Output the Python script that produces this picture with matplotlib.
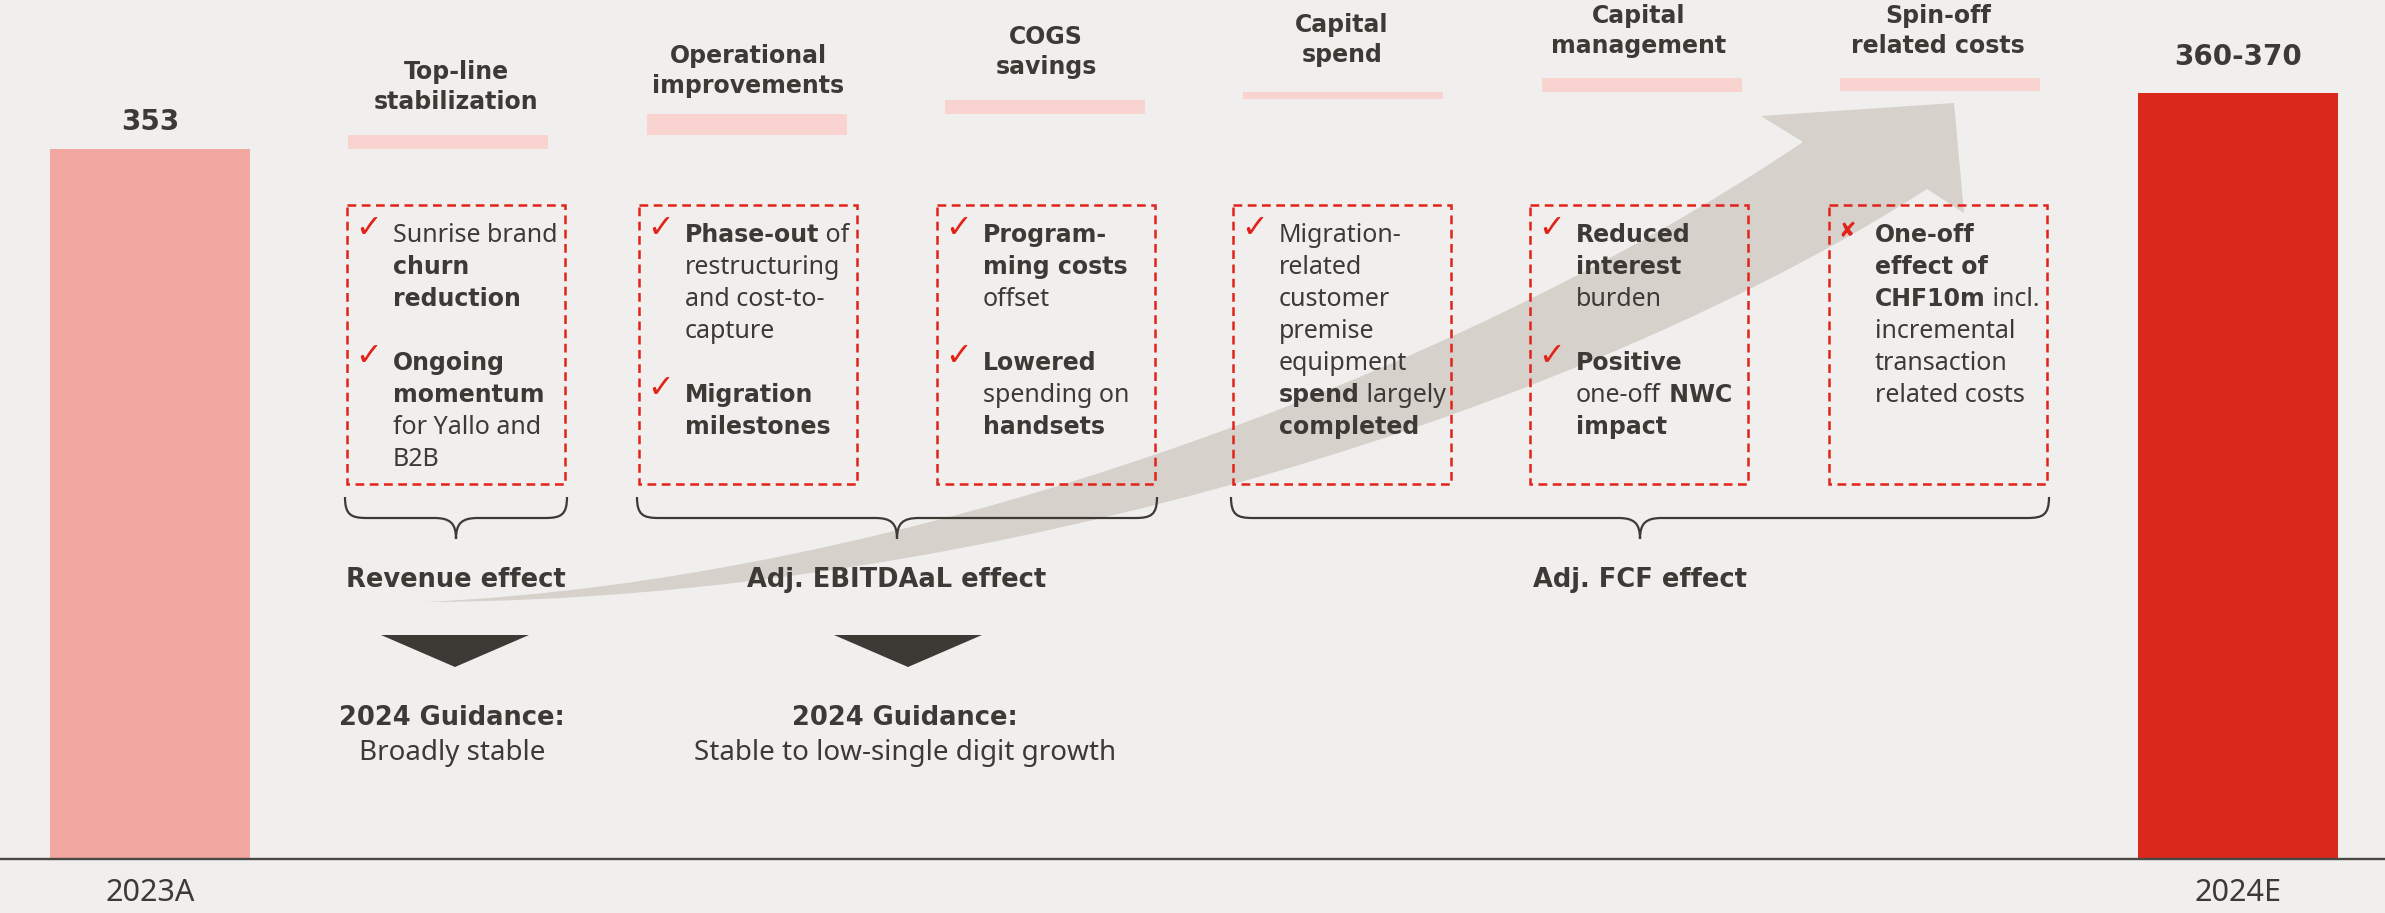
import matplotlib
matplotlib.use("Agg")
import matplotlib.pyplot as plt
from matplotlib.path import Path
from matplotlib.patches import PathPatch, Rectangle, Polygon
from matplotlib import font_manager

# chart values
years = ["2023A", "2024E"]
values = [353, 365]
value_labels = ["353", "360-370"]
axis_floor = 200

headers = ["Top-line\nstabilization", "Operational\nimprovements", "COGS\nsavings",
           "Capital\nspend", "Capital\nmanagement", "Spin-off\nrelated costs"]

# each box: bullets -> lines -> (text, bold) pieces
boxes = [
    [[[("Sunrise brand", 0)], [("churn", 1)], [("reduction", 1)]],
     [[("Ongoing", 1)], [("momentum", 1)], [("for Yallo and", 0)], [("B2B", 0)]]],
    [[[("Phase-out", 1), (" of", 0)], [("restructuring", 0)], [("and cost-to-", 0)], [("capture", 0)]],
     [[("Migration", 1)], [("milestones", 1)]]],
    [[[("Program-", 1)], [("ming costs", 1)], [("offset", 0)]],
     [[("Lowered", 1)], [("spending on", 0)], [("handsets", 1)]]],
    [[[("Migration-", 0)], [("related", 0)], [("customer", 0)], [("premise", 0)],
      [("equipment", 0)], [("spend", 1), (" largely", 0)], [("completed", 1)]]],
    [[[("Reduced", 1)], [("interest", 1)], [("burden", 0)]],
     [[("Positive", 1)], [("one-off", 0), (" NWC", 1)], [("impact", 1)]]],
    [[[("One-off", 1)], [("effect of", 1)], [("CHF10m", 1), (" incl.", 0)],
      [("incremental", 0)], [("transaction", 0)], [("related costs", 0)]]],
]
markers = ["✓", "✓", "✓", "✓", "✓", "✘"]

groups = ["Revenue effect", "Adj. EBITDAaL effect", "Adj. FCF effect"]
group_spans = [(0, 0), (1, 2), (3, 5)]
guidance = ["Broadly stable", "Stable to low-single digit growth"]

BG = "#F0EFED"
DARK = "#3D3935"
RED = "#DA291C"
PINK = "#F2A7A0"
HEAD_PINK = "#F9D3D0"
DASH_RED = "#E2231A"
ARROW = "#D6D1CB"

names = {f.name for f in font_manager.fontManager.ttflist}
REG = "Noto Sans" if "Noto Sans" in names else "DejaVu Sans"
BOLD = "DejaVu Sans"
plt.rcParams["font.family"] = [REG, "DejaVu Sans"]

W, H = 2385, 913
fig = plt.figure(figsize=(W / 100, H / 100), dpi=100, facecolor=BG)

# bar axes: bottom edge sits on the baseline
base_px = 54
bx = fig.add_axes([0, base_px / H, 1, (H - base_px) / H])
bx.set_facecolor("none")
px_per_unit = 710 / (values[0] - axis_floor)
bx.set_ylim(axis_floor, axis_floor + (H - base_px) / px_per_unit)
bx.set_xlim(-150 / 2088, 1 + 147 / 2088)
bars = bx.bar(range(len(years)), [v - axis_floor for v in values], bottom=axis_floor,
              width=200 / 2088, color=[PINK, RED])
for rect, lab, off in zip(bars, value_labels, [9.5, 16]):
    bx.annotate(lab, (rect.get_x() + rect.get_width() / 2, rect.get_y() + rect.get_height()),
                xytext=(0, off), textcoords="offset points", ha="center", va="bottom",
                fontsize=20, fontweight="bold", family=BOLD, color=DARK)
bx.set_xticks(range(len(years)), years)
bx.tick_params(axis="x", length=0, pad=14, labelsize=22, labelcolor=DARK)
bx.set_yticks([])
for s in ["top", "left", "right"]:
    bx.spines[s].set_visible(False)
bx.spines["bottom"].set_color("#4A4845")
bx.spines["bottom"].set_linewidth(1.7)

# overlay axes in pixel units for the annotations
ax = fig.add_axes([0, 0, 1, 1])
ax.set_facecolor("none")
ax.set_xlim(0, W)
ax.set_ylim(H, 0)
ax.axis("off")
renderer = fig.canvas.get_renderer()

# big grey arrow
upper = [(425, 602), (900, 580), (1450, 380), (1803, 142)]
head = [(1761, 116), (1954, 103), (1964, 213), (1927, 189)]
lower = [(1600, 400), (1000, 600), (425, 602)]
codes = ([Path.MOVETO, Path.CURVE4, Path.CURVE4, Path.CURVE4]
         + [Path.LINETO] * 4 + [Path.CURVE4] * 3)
ax.add_patch(PathPatch(Path(upper + head + lower, codes), facecolor=ARROW,
                       edgecolor="none", zorder=1))

box_left = [347, 639, 937, 1233, 1530, 1829]
box_w = 218
box_top, box_bot = 205, 484
pink_x = [448, 747, 1045, 1343, 1642, 1940]
pink_y = [(135, 149), (114, 135), (100, 114), (92, 99), (78, 92), (78, 91)]
head_y = [87, 71, 52, 40, 31, 31]
line0, dy = 242, 32
BODY = 18
BODY_B = 17


def rich(x, y, parts):
    for s, b in parts:
        if b:
            t = ax.text(x, y, s, fontsize=BODY_B, fontweight="bold", family=BOLD,
                        color=DARK, ha="left", va="baseline", zorder=5)
        else:
            t = ax.text(x, y, s, fontsize=BODY, color=DARK, ha="left",
                        va="baseline", zorder=5)
        x += t.get_window_extent(renderer).width


for i, left in enumerate(box_left):
    cx = left + box_w / 2
    ax.add_patch(Rectangle((left, box_top), box_w, box_bot - box_top, fill=False,
                           edgecolor=DASH_RED, lw=1.8, linestyle=(0, (3.5, 2.2)), zorder=4))
    y0, y1 = pink_y[i]
    ax.add_patch(Rectangle((pink_x[i] - 100, y0), 200, y1 - y0, color=HEAD_PINK, lw=0, zorder=2))
    ax.text(cx, head_y[i], headers[i], ha="center", va="center", fontsize=17,
            fontweight="bold", family=BOLD, color=DARK, linespacing=1.3, zorder=5)
    row = 0
    for bullet in boxes[i]:
        if markers[i] == "✓":
            ax.text(left + 8, line0 + row * dy - 5, markers[i], fontsize=23, fontweight="bold",
                    color=DASH_RED, family="DejaVu Sans", ha="left", va="baseline", zorder=5)
        else:
            ax.text(left + 9, line0 + row * dy - 5, markers[i], fontsize=15,
                    color=DASH_RED, family="DejaVu Sans", ha="left", va="baseline", zorder=5)
        for parts in bullet:
            rich(left + 46, line0 + row * dy, parts)
            row += 1
        row += 1


# braces under the boxes
def brace(xl, xr, yt=497, ym=518, yb=539, r=22):
    xc = (xl + xr) / 2
    v = [(xl, yt), (xl, ym - 3), (xl + 6, ym), (xl + r, ym),
         (xc - r, ym), (xc - 6, ym), (xc, ym + 5), (xc, yb),
         (xc, ym + 5), (xc + 6, ym), (xc + r, ym),
         (xr - r, ym), (xr - 6, ym), (xr, ym - 3), (xr, yt)]
    c = [Path.MOVETO, Path.CURVE4, Path.CURVE4, Path.CURVE4,
         Path.LINETO, Path.CURVE4, Path.CURVE4, Path.CURVE4,
         Path.CURVE4, Path.CURVE4, Path.CURVE4,
         Path.LINETO, Path.CURVE4, Path.CURVE4, Path.CURVE4]
    ax.add_patch(PathPatch(Path(v, c), fill=False, edgecolor=DARK, lw=1.6, zorder=4))
    return xc


for g, (a, b) in zip(groups, group_spans):
    xc = brace(box_left[a] - 2, box_left[b] + box_w + 2)
    ax.text(xc, 580, g, ha="center", va="center", fontsize=18.5, fontweight="bold",
            family=BOLD, color=DARK, zorder=5)

tri_x = [455, 908]
for xc, txt in zip(tri_x, guidance):
    ax.add_patch(Polygon([(xc - 74, 635), (xc + 74, 635), (xc, 667)], closed=True,
                         color=DARK, lw=0, zorder=4))
    ax.text(xc - 3, 718, "2024 Guidance:", ha="center", va="center", fontsize=18.5,
            fontweight="bold", family=BOLD, color=DARK)
    ax.text(xc - 3, 753, txt, ha="center", va="center", fontsize=20, color=DARK)

fig.savefig("out.png", dpi=100, facecolor=BG)
